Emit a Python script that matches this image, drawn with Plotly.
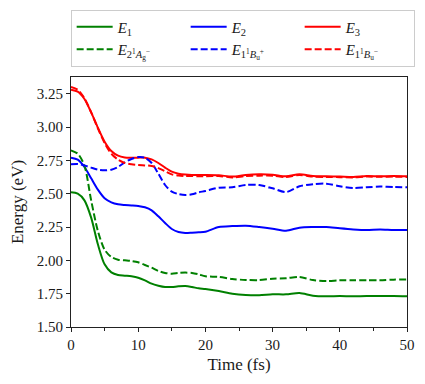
import plotly.graph_objects as go

time_fs = [0, 1, 2, 3, 4, 5, 6, 7, 8, 9, 10, 11, 12, 13, 14, 15, 16, 17, 18, 19, 20,
           22, 24, 26, 28, 30, 32, 34, 36, 38, 40, 42, 44, 46, 48, 50]

E1 = [2.51, 2.50, 2.45, 2.32, 2.12, 1.97, 1.91, 1.89, 1.885, 1.88, 1.87, 1.85, 1.825, 1.81, 1.80, 1.80,
      1.805, 1.807, 1.80, 1.79, 1.785,
      1.77, 1.75, 1.74, 1.738, 1.745, 1.745, 1.755, 1.735, 1.73, 1.732, 1.73, 1.733, 1.732, 1.733, 1.73]
E2 = [2.77, 2.755, 2.70, 2.615, 2.53, 2.465, 2.435, 2.42, 2.415, 2.412, 2.408, 2.398, 2.375, 2.33, 2.28,
      2.235, 2.212, 2.205, 2.207, 2.21, 2.215,
      2.25, 2.257, 2.26, 2.25, 2.237, 2.222, 2.245, 2.25, 2.25, 2.24, 2.232, 2.228, 2.232, 2.228, 2.228]
E3 = [3.28, 3.265, 3.21, 3.11, 2.995, 2.89, 2.82, 2.785, 2.772, 2.77, 2.77, 2.77, 2.757, 2.73, 2.695,
      2.665, 2.65, 2.643, 2.64, 2.64, 2.64,
      2.638, 2.628, 2.64, 2.645, 2.642, 2.63, 2.645, 2.632, 2.63, 2.628, 2.625, 2.632, 2.63, 2.632, 2.63]
E_2Ag = [2.825, 2.80, 2.71, 2.45, 2.22, 2.08, 2.025, 2.005, 2.0, 1.995, 1.985, 1.965, 1.945, 1.92, 1.905,
         1.90, 1.905, 1.908, 1.905, 1.895, 1.88,
         1.876, 1.86, 1.853, 1.852, 1.862, 1.866, 1.875, 1.852, 1.845, 1.85, 1.85, 1.85, 1.85, 1.855, 1.857]
E_1Bu_plus = [2.72, 2.722, 2.712, 2.695, 2.68, 2.675, 2.68, 2.70, 2.735, 2.76, 2.775, 2.77, 2.73, 2.65,
              2.565, 2.515, 2.497, 2.49, 2.495, 2.51, 2.52,
              2.545, 2.548, 2.565, 2.565, 2.54, 2.512, 2.555, 2.57, 2.575, 2.555, 2.542, 2.548, 2.553, 2.55, 2.548]
E_1Bu_minus = [3.30, 3.28, 3.215, 3.11, 2.99, 2.88, 2.80, 2.755, 2.73, 2.72, 2.715, 2.712, 2.708, 2.692,
               2.668, 2.645, 2.636, 2.632, 2.632, 2.63, 2.63,
               2.632, 2.622, 2.632, 2.635, 2.635, 2.625, 2.64, 2.628, 2.625, 2.624, 2.622, 2.628, 2.626, 2.628, 2.625]

y_ticks = [1.50, 1.75, 2.00, 2.25, 2.50, 2.75, 3.00, 3.25]
x_ticks = [0, 10, 20, 30, 40, 50]

series = [
    ("<i>E</i><sub>1</sub>", E1, "green", "solid"),
    ("<i>E</i><sub>2</sub>", E2, "#0000ff", "solid"),
    ("<i>E</i><sub>3</sub>", E3, "#ff0000", "solid"),
    ("<i>E</i><sub>2<sup>1</sup><i>A</i><sub>g</sub><sup>\u2212</sup></sub>", E_2Ag, "green", "7px,3px"),
    ("<i>E</i><sub>1<sup>1</sup><i>B</i><sub>u</sub><sup>+</sup></sub>", E_1Bu_plus, "#0000ff", "7px,3px"),
    ("<i>E</i><sub>1<sup>1</sup><i>B</i><sub>u</sub><sup>\u2212</sup></sub>", E_1Bu_minus, "#ff0000", "7px,3px"),
]

fig = go.Figure()
for name, vals, color, dash in series:
    fig.add_trace(go.Scatter(x=time_fs, y=vals, mode="lines", name=name,
                             line=dict(color=color, width=2, dash=dash, shape="spline", smoothing=0.8)))

font_family = "Liberation Serif, DejaVu Serif, serif"
title_font = dict(family=font_family, size=17, color="#1a1a1a")
fig.update_layout(
    width=425, height=384,
    margin=dict(l=71, r=18, t=77, b=57, autoexpand=False),
    plot_bgcolor="white", paper_bgcolor="white",
    font=dict(family=font_family, size=15, color="#1a1a1a"),
    showlegend=True,
    legend=dict(orientation="h", xref="paper", yref="paper",
                x=-0.001, xanchor="left", y=1.27, yanchor="top",
                entrywidth=63, entrywidthmode="pixels",
                bordercolor="#cccccc", borderwidth=1, bgcolor="white",
                font=dict(family=font_family, size=15), itemwidth=36, tracegroupgap=0),
    xaxis=dict(range=[0, 50], tickvals=x_ticks, ticks="outside", ticklen=4, tickwidth=1,
               showline=True, linecolor="#222", linewidth=1.2, mirror=True, showgrid=False, zeroline=False,
               minor=dict(tickvals=[5, 15, 25, 35, 45], ticks="outside", ticklen=2.5, tickcolor="#222"),
               tickcolor="#222", automargin=False, tickfont=dict(family=font_family, size=15),
               title=dict(text="Time (fs)", standoff=6, font=title_font)),
    yaxis=dict(range=[1.5, 3.375], tickvals=y_ticks, tickformat=".2f", ticks="outside", ticklen=4, tickwidth=1,
               showline=True, linecolor="#222", linewidth=1.2, mirror=True, showgrid=False, zeroline=False,
               tickcolor="#222", automargin=False, tickfont=dict(family=font_family, size=15),
               title=dict(text="Energy (eV)", standoff=8, font=title_font)),
)

fig.write_html("out.html", config={"displayModeBar": False},
               post_script="document.body.style.margin='0';")
